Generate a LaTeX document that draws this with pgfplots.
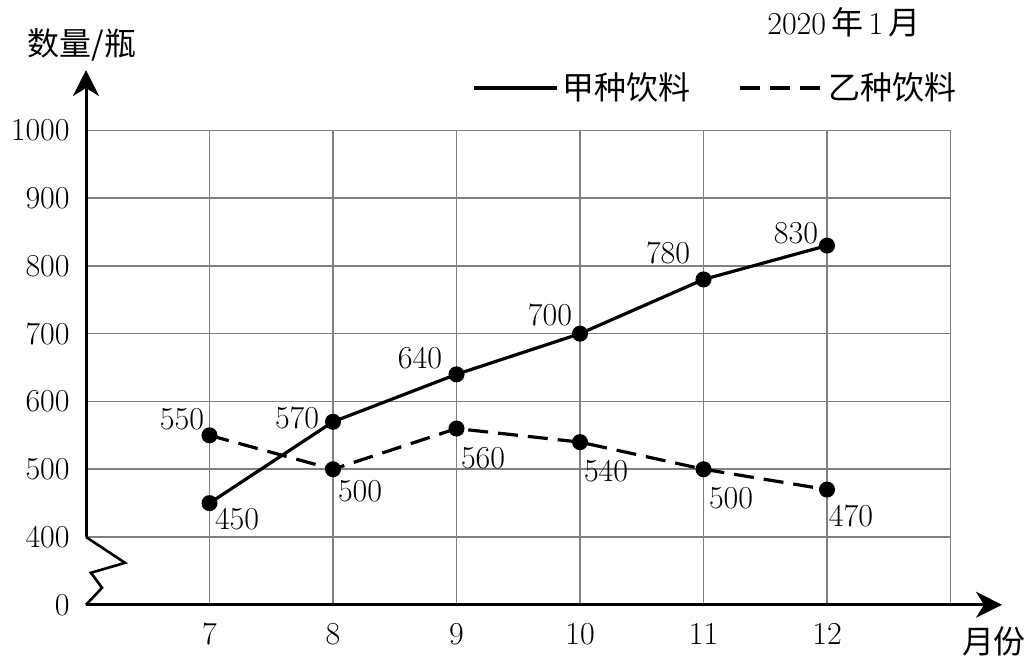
\documentclass[border=0pt]{standalone}
\usepackage{fontspec}
\usepackage{pgfplots}
\pgfplotsset{compat=1.18}
\usetikzlibrary{arrows.meta}
\newfontfamily\cjk{Noto Sans CJK SC}
\newcommand\lbl{\fontsize{16}{19}\selectfont}

\begin{document}
\begin{tikzpicture}
\begin{axis}[
  scale only axis, width=458.2pt, height=267.5pt,
  xmin=6, xmax=13.417, ymin=300, ymax=1089,
  axis line style={draw=none},
  major tick length=0pt,
  xtick={7,8,9,10,11,12},
  ytick={300,400,500,600,700,800,900,1000},
  yticklabels={0,400,500,600,700,800,900,1000},
  tick label style={font=\lbl},
  /pgf/number format/assume math mode=true,
  xticklabel style={anchor=north, inner sep=0pt, yshift=-9pt},
  yticklabel style={anchor=east, inner sep=0pt, xshift=-8pt},
  clip=false,
  legend columns=2,
  legend style={at={(axis cs:9.1255,1062.5)}, anchor=west, draw=none, fill=none,
    inner sep=0pt, font=\lbl\cjk, nodes={inner sep=2pt},
    /tikz/every even column/.append style={column sep=22pt}},
  legend image code/.code={\draw[#1] (0pt,0pt) -- (41.5pt,0pt);},
]
% grid
\pgfplotsinvokeforeach{7,8,9,10,11,12,13}{
  \draw[gray, line width=0.8pt] (axis cs:#1,300) -- (axis cs:#1,1000);
}
\pgfplotsinvokeforeach{400,500,600,700,800,900,1000}{
  \draw[gray, line width=0.8pt] (axis cs:6,#1) -- (axis cs:13,#1);
}
% axes with the break
\draw[line width=1.5pt, -{Stealth[length=13pt,width=13pt,inset=4pt]}]
  (axis cs:6,300) -- (axis cs:13.417,300);
\draw[line width=1.5pt, -{Stealth[length=13pt,width=13pt,inset=4pt]}]
  (axis cs:6,400) -- (axis cs:6,1089);
\draw[line width=1.3pt] (axis cs:6,400) -- (axis cs:6.316,361.9) -- (axis cs:6.040,347.2)
  -- (axis cs:6.130,325.1) -- (axis cs:6,300);

\addplot[black, line width=1.6pt, mark=*, mark size=3.2pt]
  coordinates {(7,450)(8,570)(9,640)(10,700)(11,780)(12,830)};
\addlegendentry{甲种饮料}
\addplot[black, line width=1.6pt, dash pattern=on 10pt off 5pt, mark=*, mark size=3.2pt, mark options={solid}]
  coordinates {(7,550)(8,500)(9,560)(10,540)(11,500)(12,470)};
\addlegendentry{乙种饮料}

% value labels
\node[font=\lbl] at (axis cs:7.223,426.8) {450};
\node[font=\lbl] at (axis cs:7.709,575.8) {570};
\node[font=\lbl] at (axis cs:8.704,664.3) {640};
\node[font=\lbl] at (axis cs:9.757,727.7) {700};
\node[font=\lbl] at (axis cs:10.713,819.2) {780};
\node[font=\lbl] at (axis cs:11.749,848.7) {830};
\node[font=\lbl] at (axis cs:6.777,574.3) {550};
\node[font=\lbl] at (axis cs:8.219,468.1) {500};
\node[font=\lbl] at (axis cs:9.215,516.8) {560};
\node[font=\lbl] at (axis cs:10.211,497.6) {540};
\node[font=\lbl] at (axis cs:11.223,457.8) {500};
\node[font=\lbl] at (axis cs:12.194,431.3) {470};

% titles
\node[font=\lbl\cjk] at (axis cs:5.968,1125.9) {数量/瓶};
\node[font=\lbl\cjk] at (axis cs:13.352,245.4) {月份};
\node[font=\lbl] at (axis cs:12.138,1159.9) {2020\,{\cjk 年}\,1\,{\cjk 月}};

\coordinate (bl) at (axis cs:5.3036,215.9);
\coordinate (tr) at (axis cs:13.6356,1192.3);
\end{axis}
\pgfresetboundingbox
\useasboundingbox (bl) rectangle (tr);
\end{tikzpicture}
\end{document}
